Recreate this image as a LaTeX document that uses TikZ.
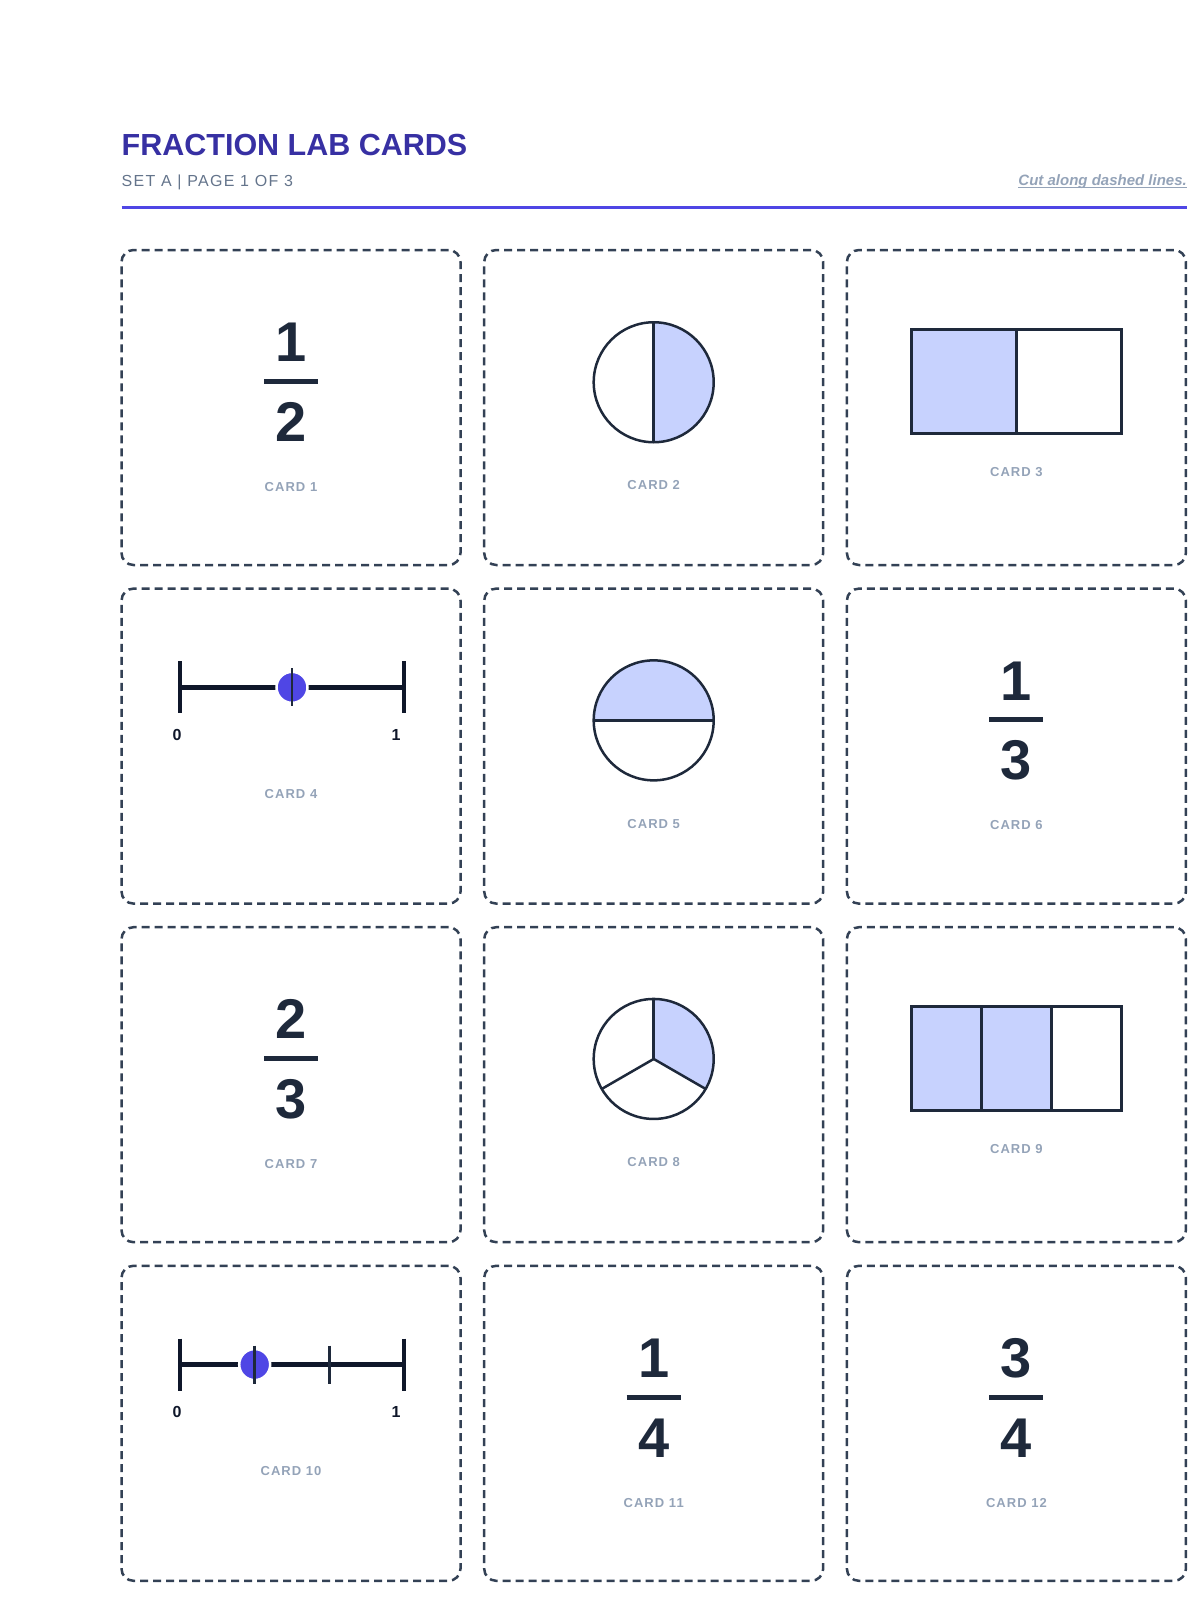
\documentclass[tikz,border=0pt]{standalone}
\usepackage{fontspec}
\setmainfont{Liberation Sans}
\newfontfamily\cardfont[LetterSpace=8]{Liberation Sans}
\newfontfamily\subfont[LetterSpace=8]{Liberation Sans}
\definecolor{titleblue}{HTML}{3730A3}
\definecolor{rulecol}{HTML}{4F46E5}
\definecolor{subgray}{HTML}{64748B}
\definecolor{muted}{HTML}{94A3B8}
\definecolor{edge}{HTML}{334155}
\definecolor{ink}{HTML}{1E293B}
\definecolor{lineink}{HTML}{0F172A}
\definecolor{partfill}{HTML}{C7D2FE}
\definecolor{dotcol}{HTML}{4F46E5}

\begin{document}
\begin{tikzpicture}[x=1pt, y=-1pt]
        \tikzstyle{card}=[rectangle, draw=edge, line width=2.5pt, dash pattern=on 8pt off 5pt, rounded corners=12pt, minimum width=339pt, minimum height=315pt, inner sep=0pt]
        \tikzstyle{digit}=[font=\fontsize{56}{56}\selectfont\bfseries, text=ink, anchor=base, inner sep=0pt]
        \tikzstyle{fracbar}=[draw=ink, line width=5pt]
        \tikzstyle{cardlabel}=[font=\cardfont\fontsize{13}{13}\selectfont\bfseries, text=muted, inner sep=0pt]
        \tikzstyle{shapeline}=[draw=ink, line width=2.5pt]
        \tikzstyle{boxline}=[draw=ink, line width=3pt]
        \tikzstyle{axis}=[draw=lineink, line width=4.5pt]
        \tikzstyle{endtick}=[draw=lineink, line width=4.5pt]
        \tikzstyle{tick}=[draw=ink, line width=2.5pt]
        \tikzstyle{dot}=[circle, fill=dotcol, draw=white, line width=2.5pt, minimum size=31pt, inner sep=0pt]
        \tikzstyle{numlabel}=[font=\fontsize{16}{16}\selectfont\bfseries, text=lineink, inner sep=0pt]

        \useasboundingbox (0,0) rectangle (1200,1600);

        \node[anchor=base west, inner sep=0pt, text=titleblue, font=\fontsize{30.5}{36}\selectfont\bfseries] (title) at (121.5,155) {FRACTION LAB CARDS};
        \node[anchor=base west, inner sep=0pt, text=subgray, font=\subfont\fontsize{16}{19}\selectfont] (subtitle) at (121.5,186) {SET A | PAGE 1 OF 3};
        \node[anchor=base east, inner sep=0pt, text=muted, font=\fontsize{15}{18}\selectfont\bfseries\itshape] (cutnote) at (1187,185) {Cut along dashed lines.};
        \draw[muted, line width=1pt] ([yshift=-2pt]cutnote.base west) -- ([yshift=-2pt]cutnote.base east);
        \draw[rulecol, line width=3pt] (121.5,207) -- (1187,207);

        \node[card] (card1) at (291,407.5) {};
        \node[card, right of=card1, node distance=362.7pt] (card2) {};
        \node[card, right of=card2, node distance=362.7pt] (card3) {};
        \node[card, below of=card1, node distance=338.6pt] (card4) {};
        \node[card, right of=card4, node distance=362.7pt] (card5) {};
        \node[card, right of=card5, node distance=362.7pt] (card6) {};
        \node[card, below of=card4, node distance=338.6pt] (card7) {};
        \node[card, right of=card7, node distance=362.7pt] (card8) {};
        \node[card, right of=card8, node distance=362.7pt] (card9) {};
        \node[card, below of=card7, node distance=338.6pt] (card10) {};
        \node[card, right of=card10, node distance=362.7pt] (card11) {};
        \node[card, right of=card11, node distance=362.7pt] (card12) {};

        \foreach \c/\n/\d in {1/1/2, 6/1/3, 7/2/3, 11/1/4, 12/3/4} {
            \node[digit] (num\c) at ([yshift=-113pt]card\c.north) {\n};
            \draw[fracbar] ([xshift=-27pt,yshift=-132.5pt]card\c.north) -- ([xshift=27pt,yshift=-132.5pt]card\c.north);
            \node[digit] (den\c) at ([yshift=-192.5pt]card\c.north) {\d};
        }

        \foreach \c/\off in {1/238, 2/236.5, 3/223, 4/206.5, 5/236.5, 6/238, 7/238, 8/236.5, 9/223, 10/206, 11/238, 12/238} {
            \node[cardlabel] (label\c) at ([yshift=-\off pt]card\c.north) {CARD \c};
        }

        \coordinate (pie2) at ([yshift=-133.5pt]card2.north);
        \fill[partfill] (pie2) -- ++(90:60pt) arc[start angle=90, end angle=-90, radius=60pt] -- cycle;
        \draw[shapeline] (pie2) circle[radius=60pt];
        \draw[shapeline] ([yshift=60pt]pie2) -- ([yshift=-60pt]pie2);

        \coordinate (pie5) at ([yshift=-133pt]card5.north);
        \fill[partfill] (pie5) -- ++(180:60pt) arc[start angle=180, end angle=0, radius=60pt] -- cycle;
        \draw[shapeline] (pie5) circle[radius=60pt];
        \draw[shapeline] ([xshift=-60pt]pie5) -- ([xshift=60pt]pie5);

        \coordinate (pie8) at ([yshift=-133pt]card8.north);
        \fill[partfill] (pie8) -- ++(90:60pt) arc[start angle=90, end angle=-30, radius=60pt] -- cycle;
        \draw[shapeline] (pie8) circle[radius=60pt];
        \draw[shapeline] (pie8) -- ++(90:60pt);
        \draw[shapeline] (pie8) -- ++(210:60pt);
        \draw[shapeline] (pie8) -- ++(330:60pt);

        \coordinate (bar3) at ([yshift=-133pt]card3.north);
        \fill[partfill] ([xshift=-105pt,yshift=52pt]bar3) rectangle ([yshift=-52pt]bar3);
        \draw[boxline] ([xshift=-105pt,yshift=52pt]bar3) rectangle ([xshift=105pt,yshift=-52pt]bar3);
        \draw[boxline] ([yshift=52pt]bar3) -- ([yshift=-52pt]bar3);

        \coordinate (bar9) at ([yshift=-133pt]card9.north);
        \fill[partfill] ([xshift=-105pt,yshift=52pt]bar9) rectangle ([xshift=35pt,yshift=-52pt]bar9);
        \draw[boxline] ([xshift=-105pt,yshift=52pt]bar9) rectangle ([xshift=105pt,yshift=-52pt]bar9);
        \draw[boxline] ([xshift=-35pt,yshift=52pt]bar9) -- ([xshift=-35pt,yshift=-52pt]bar9);
        \draw[boxline] ([xshift=35pt,yshift=52pt]bar9) -- ([xshift=35pt,yshift=-52pt]bar9);

        \coordinate (line4) at ([xshift=1pt,yshift=-100pt]card4.north);
        \draw[axis] ([xshift=-112pt]line4) -- ([xshift=112pt]line4);
        \draw[endtick] ([xshift=-112pt,yshift=26pt]line4) -- ([xshift=-112pt,yshift=-26pt]line4);
        \draw[endtick] ([xshift=112pt,yshift=26pt]line4) -- ([xshift=112pt,yshift=-26pt]line4);
        \node[dot] (dot4) at (line4) {};
        \draw[tick] ([yshift=19pt]line4) -- ([yshift=-19pt]line4);
        \node[numlabel] (zero4) at ([xshift=-115pt,yshift=-47.5pt]line4) {0};
        \node[numlabel] (one4) at ([xshift=104pt,yshift=-47.5pt]line4) {1};

        \coordinate (line10) at ([xshift=1pt,yshift=-100pt]card10.north);
        \draw[axis] ([xshift=-112pt]line10) -- ([xshift=112pt]line10);
        \draw[endtick] ([xshift=-112pt,yshift=26pt]line10) -- ([xshift=-112pt,yshift=-26pt]line10);
        \draw[endtick] ([xshift=112pt,yshift=26pt]line10) -- ([xshift=112pt,yshift=-26pt]line10);
        \node[dot] (dot10) at ([xshift=-37.3pt]line10) {};
        \draw[tick] ([xshift=-37.3pt,yshift=19pt]line10) -- ([xshift=-37.3pt,yshift=-19pt]line10);
        \draw[tick] ([xshift=37.3pt,yshift=19pt]line10) -- ([xshift=37.3pt,yshift=-19pt]line10);
        \node[numlabel] (zero10) at ([xshift=-115pt,yshift=-47.5pt]line10) {0};
        \node[numlabel] (one10) at ([xshift=104pt,yshift=-47.5pt]line10) {1};
\end{tikzpicture}
\end{document}
